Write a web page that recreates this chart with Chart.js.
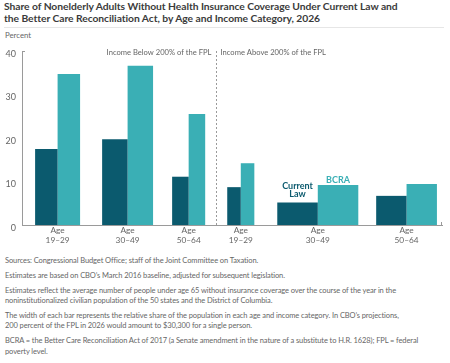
<!DOCTYPE html>
<html>
<head>
<meta charset="utf-8">
<script src="https://cdn.jsdelivr.net/npm/chart.js@4"></script>
<style>
  body { margin: 0; width: 450px; height: 363px; overflow: hidden; background: #fff; font-family: Lato, "Open Sans", sans-serif; position: relative; }
  #title { position: absolute; left: 4px; top: 0px; font-size: 10.3px; font-weight: 700; color: #3b3b3b; line-height: 12.4px; white-space: nowrap; letter-spacing: -0.05px; }
  #rule { position: absolute; left: 4px; top: 27px; width: 440px; height: 1px; background: #e6e6e6; }
  #unit { position: absolute; left: 5px; top: 30px; font-size: 7.8px; color: #666; }
  #wrap { position: absolute; left: 0; top: 36px; width: 450px; height: 219px; }
  #notes { position: absolute; left: 5px; top: 256px; font-size: 7.5px; color: #666; line-height: 10.5px; white-space: nowrap; letter-spacing: -0.1px; }
  #notes p { margin: 0 0 4.3px 0; }
</style>
</head>
<body>
<div id="title">Share of Nonelderly Adults Without Health Insurance Coverage Under Current Law and<br>the Better Care Reconciliation Act, by Age and Income Category, 2026</div>
<div id="rule"></div>
<div id="unit">Percent</div>
<div id="wrap"><canvas id="grafico"></canvas></div>
<div id="notes">
  <p>Sources: Congressional Budget Office; staff of the Joint Committee on Taxation.</p>
  <p>Estimates are based on CBO’s March 2016 baseline, adjusted for subsequent legislation.</p>
  <p>Estimates reflect the average number of people under age 65 without insurance coverage over the course of the year in the<br>noninstitutionalized civilian population of the 50 states and the District of Columbia.</p>
  <p>The width of each bar represents the relative share of the population in each age and income category. In CBO’s projections,<br>200 percent of the FPL in 2026 would amount to $30,300 for a single person.</p>
  <p>BCRA = the Better Care Reconciliation Act of 2017 (a Senate amendment in the nature of a substitute to H.R. 1628); FPL = federal<br>poverty level.</p>
</div>
<script>
// categorias (3 faixas abaixo de 200% FPL, 3 acima)
const ageLabels = ['19–29', '30–49', '50–64', '19–29', '30–49', '50–64'];
const groupNames = ['Income Below 200% of the FPL', 'Income Above 200% of the FPL'];
// parcela da populacao (largura de cada par de barras)
const popShare = [15.1, 17.1, 11.1, 9.1, 27.2, 20.4];
const currentLaw = [17.5, 19.7, 11.1, 8.7, 5.2, 6.7];
const bcra = [34.7, 36.6, 25.5, 14.2, 9.2, 9.4];
const yTicks = [0, 10, 20, 30, 40];

const DARK = '#0b5a6e';
const LIGHT = '#3aafb5';
const FONT = 'Lato, "Open Sans", sans-serif';

// espacos entre os grupos (layout, em unidades do eixo x)
const gaps = [4.4, 7.4, 6.4, 7.4, 7.7, 6.0, 1.7];
const starts = [];
let acc = 0;
popShare.forEach((w, i) => { acc += gaps[i]; starts.push(acc); acc += w; });
const xMax = acc + gaps[gaps.length - 1];
const centers = starts.map((s, i) => s + popShare[i] / 2);
const divider = (starts[2] + popShare[2] + starts[3]) / 2;

const larguraBarras = {
    id: 'larguraBarras',
    afterDatasetsUpdate(chart) {
        const x = chart.scales.x;
        chart.data.datasets.forEach((ds, d) => {
            chart.getDatasetMeta(d).data.forEach((el, i) => {
                const half = popShare[i] / 2;
                const left = starts[i] + (d === 0 ? 0 : half);
                el.x = x.getPixelForValue(left + half / 2);
                el.width = x.getPixelForValue(half) - x.getPixelForValue(0);
            });
        });
    }
};

const anotacoes = {
    id: 'anotacoes',
    afterDraw(chart) {
        const { ctx, chartArea: { top, bottom, left, right }, scales: { x, y } } = chart;
        ctx.save();
        // divisoria tracejada
        const xd = Math.round(x.getPixelForValue(divider)) + 0.5;
        ctx.strokeStyle = '#9a9a9a';
        ctx.lineWidth = 1;
        ctx.setLineDash([2, 2]);
        ctx.beginPath();
        ctx.moveTo(xd, top);
        ctx.lineTo(xd, bottom);
        ctx.stroke();
        ctx.setLineDash([]);
        // pequenos remates dos eixos
        ctx.beginPath();
        ctx.moveTo(left, top + 0.5);
        ctx.lineTo(left + 3, top + 0.5);
        ctx.moveTo(right - 0.5, bottom);
        ctx.lineTo(right - 0.5, bottom - 3);
        ctx.stroke();
        // rotulos dos grupos
        ctx.font = '7.6px ' + FONT;
        ctx.fillStyle = '#666';
        ctx.textBaseline = 'middle';
        ctx.textAlign = 'right';
        ctx.fillText(groupNames[0], xd - 5, top + 2);
        ctx.textAlign = 'left';
        ctx.fillText(groupNames[1], xd + 4, top + 2);
        // legenda direta
        const i = 4;
        ctx.font = 'bold 9px ' + FONT;
        ctx.textAlign = 'center';
        ctx.fillStyle = DARK;
        const xc = x.getPixelForValue(starts[i] + popShare[i] / 4);
        const yc = y.getPixelForValue(currentLaw[i]);
        ctx.fillText('Current', xc, yc - 16);
        ctx.fillText('Law', xc, yc - 8);
        ctx.fillStyle = LIGHT;
        const xb = x.getPixelForValue(starts[i] + popShare[i] * 3 / 4);
        ctx.fillText('BCRA', xb, y.getPixelForValue(bcra[i]) - 5);
        ctx.restore();
    }
};

document.addEventListener('DOMContentLoaded', () => {
    const ctx = document.getElementById('grafico').getContext('2d');
    new Chart(ctx, {
        type: 'bar',
        data: {
            datasets: [
                { label: 'Current Law', data: currentLaw.map((v, i) => ({ x: centers[i], y: v })), backgroundColor: DARK, grouped: false },
                { label: 'BCRA', data: bcra.map((v, i) => ({ x: centers[i], y: v })), backgroundColor: LIGHT, grouped: false }
            ]
        },
        options: {
            responsive: true,
            maintainAspectRatio: false,
            animation: false,
            events: [],
            layout: { padding: { top: 15, right: 8, left: 0, bottom: 0 } },
            plugins: { legend: { display: false }, tooltip: { enabled: false } },
            scales: {
                x: {
                    type: 'linear',
                    min: 0,
                    max: xMax,
                    offset: false,
                    grid: { display: false, drawTicks: false },
                    border: { display: true, color: '#9a9a9a' },
                    afterBuildTicks: (scale) => { scale.ticks = centers.map(v => ({ value: v })); },
                    afterFit: (scale) => { scale.height = 30; },
                    ticks: {
                        autoSkip: false,
                        maxRotation: 0,
                        padding: 0,
                        color: '#666',
                        font: { size: 8.3, family: FONT, lineHeight: 1.25 },
                        callback: (v, i) => ['Age', ageLabels[i]]
                    }
                },
                y: {
                    min: 0,
                    max: 40,
                    grid: { display: false, drawTicks: false },
                    border: { display: true, color: '#9a9a9a' },
                    afterBuildTicks: (scale) => { scale.ticks = yTicks.map(v => ({ value: v })); },
                    afterFit: (scale) => { scale.width = 22; },
                    ticks: {
                        padding: 6,
                        labelOffset: 3,
                        color: '#666',
                        font: { size: 9, family: FONT }
                    }
                }
            }
        },
        plugins: [larguraBarras, anotacoes]
    });
});
</script>
</body>
</html>
